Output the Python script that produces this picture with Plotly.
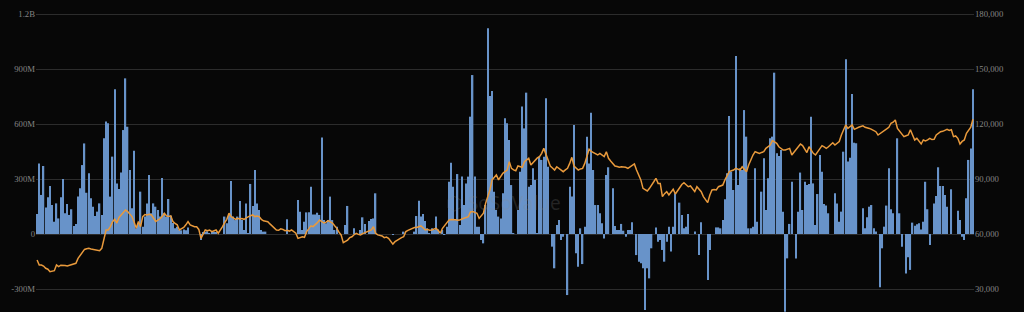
import plotly.graph_objects as go

# Daily net flow (USD millions), one value per trading day
flows_m = [
    109, 385, 213, 371, 145, 200, 262, 158, 67, 167,
    85, 200, 300, 113, 164, 104, 135, 44, 55, 204,
    249, 376, 494, 225, 331, 195, 149, 98, 122, 167,
    104, 522, 613, 604, 204, 422, 789, 276, 245, 335,
    567, 849, 585, 349, 140, 454, 31, 58, 231, 40,
    95, 167, 322, 113, 167, 149, 131, 95, 306, 113,
    95, 191, 100, 60, 31, 40, 25, 20, 25, 20,
    35, 0, 0, 0, 0, 0, -33, 8, 12, 15,
    5, 10, 12, 8, 0, 0, 0, 95, 58, 104,
    289, 95, 76, 95, 180, 76, 22, 167, 4, 273,
    153, 349, 167, 131, 22, 13, 13, 0, 0, 0,
    0, 0, 0, 0, 0, 0, 80, 0, 0, 0,
    0, 185, 122, 22, 67, 118, 118, 258, 107, 107,
    116, 104, 527, 76, 58, 76, 204, 76, 22, 40,
    0, 0, 0, 49, 153, 0, 0, 31, 0, 0,
    22, 91, 55, 0, 71, 82, 85, 222, 0, 0,
    0, 0, 0, 0, 0, -5, 0, 0, 0, 0,
    13, 0, 0, 0, 0, 13, 98, 182, 95, 109,
    71, 31, 4, 31, 22, 95, 25, 0, 22, -5,
    40, 285, 389, 258, 76, 327, 49, 313, 158, 276,
    313, 640, 867, 313, 40, 40, -33, -51, 158, 1122,
    753, 780, 231, 131, 95, 85, 222, 631, 604, 513,
    267, 4, 0, 131, 340, 695, 576, 771, 258, 267,
    358, 295, 4, 422, 404, 422, 740, 367, 0, -69,
    -187, 49, 76, -33, -15, 0, -333, 258, 204, 594,
    -105, -178, 31, -164, 40, 531, 385, 662, 349, 158,
    158, 113, 58, -24, 322, 364, 0, 249, 44, 22,
    22, 55, 18, -15, 22, 22, 64, 0, -115, -151,
    -160, -187, -415, -187, -242, -78, 0, 36, -42, -33,
    -87, -151, -42, 40, -96, 40, 222, 0, 171, 104,
    31, 40, 109, 0, 0, 13, 0, -115, 64, 0,
    0, -251, -87, 0, 0, 36, 36, 31, 76, 189,
    331, 644, 340, 240, 971, 267, 358, 349, 676, 531,
    31, 31, 40, 358, 67, 0, 231, 413, 131, 304,
    522, 531, 880, 440, 425, 458, 122, -424, -133, 55,
    285, 0, -133, 122, 335, 131, 285, 267, 273, 640,
    276, 49, 218, 431, 340, 164, 155, 113, 0, 0,
    222, 167, 67, 122, 449, 953, 395, 416, 764, 498,
    495, 0, 0, 140, 31, 91, 149, 158, 31, 13,
    0, -291, -78, 40, 155, 358, 135, 113, 0, 522,
    113, -69, 0, -215, -127, -196, 62, 45, 53, 58,
    25, 67, 285, 135, -60, 0, 167, 207, 364, 262,
    262, 213, 149, 0, 244, 0, 0, 127, 76, -15,
    -33, 195, 404, 467, 789,
]

# BTC price (thousand USD), one value per trading day
price_k = [
    45.8, 43.1, 43.1, 42.5, 41.3, 40.8, 39.4, 39.6, 40.0, 43.1,
    42.2, 43.0, 43.1, 42.8, 42.5, 42.9, 43.1, 43.6, 44.0, 46.7,
    48.2, 49.5, 51.6, 51.9, 52.2, 51.8, 51.6, 51.2, 51.0, 50.9,
    52.2, 56.7, 62.2, 62.2, 64.0, 66.7, 68.0, 66.0, 69.0, 70.4,
    71.5, 73.1, 72.2, 71.0, 69.5, 66.5, 63.1, 66.8, 64.0, 69.5,
    70.6, 70.4, 70.8, 70.4, 68.5, 66.8, 67.6, 68.3, 69.5, 71.3,
    69.9, 69.5, 69.9, 66.8, 65.8, 65.0, 62.2, 62.8, 63.6, 65.0,
    66.8, 65.0, 64.3, 64.0, 64.0, 62.5, 57.6, 60.0, 62.2, 61.8,
    62.2, 61.3, 61.8, 62.2, 60.4, 62.0, 64.0, 66.2, 68.0, 71.3,
    69.5, 68.8, 68.0, 68.6, 68.2, 68.4, 68.0, 68.8, 69.5, 70.0,
    70.4, 69.5, 69.8, 69.5, 68.0, 67.2, 67.0, 66.7, 65.5, 64.4,
    63.5, 62.2, 62.0, 62.8, 62.5, 61.8, 62.0, 61.6, 62.2, 61.5,
    60.4, 57.6, 57.9, 58.5, 58.2, 61.3, 62.8, 64.4, 64.0, 64.9,
    66.2, 67.6, 66.8, 66.0, 66.5, 67.3, 66.6, 66.0, 64.5, 63.1,
    61.0, 59.5, 55.3, 56.0, 56.7, 58.0, 58.5, 59.6, 60.4, 59.8,
    59.5, 60.2, 60.6, 61.3, 61.8, 62.2, 64.0, 60.4, 59.5, 59.2,
    58.9, 58.0, 58.3, 57.6, 56.0, 54.5, 55.8, 56.7, 57.5, 58.0,
    58.5, 61.3, 62.0, 62.5, 63.1, 63.5, 63.6, 63.9, 64.4, 63.4,
    62.2, 62.6, 62.0, 62.2, 62.8, 63.1, 62.0, 60.4, 63.1, 64.5,
    65.8, 67.6, 67.9, 68.0, 67.8, 67.5, 67.6, 68.2, 68.5, 69.0,
    69.5, 72.0, 72.3, 71.8, 71.3, 68.5, 69.8, 71.3, 76.7, 80.5,
    84.0, 89.5, 90.8, 92.2, 89.5, 91.5, 93.1, 94.0, 94.9, 99.4,
    95.8, 95.0, 94.5, 97.1, 96.8, 96.4, 99.4, 100.2, 101.3, 97.6,
    98.8, 100.4, 101.5, 102.2, 104.0, 106.7, 103.1, 100.0, 97.1, 96.0,
    94.9, 96.7, 95.8, 94.9, 94.0, 95.0, 95.8, 98.5, 101.8, 97.1,
    96.0, 94.9, 95.5, 95.8, 98.5, 102.2, 106.2, 105.0, 104.5, 103.6,
    103.1, 104.0, 103.0, 102.2, 104.9, 101.3, 99.8, 98.5, 97.1, 96.8,
    96.4, 96.7, 96.6, 96.4, 95.8, 96.5, 97.1, 98.2, 94.9, 92.0,
    89.5, 84.9, 84.2, 83.5, 84.9, 86.5, 88.5, 90.4, 87.6, 87.6,
    80.4, 82.0, 83.1, 81.3, 82.8, 84.4, 81.8, 83.5, 85.8, 87.0,
    88.0, 86.8, 85.8, 86.2, 84.5, 83.1, 85.8, 84.4, 83.1, 80.4,
    78.5, 77.1, 81.3, 84.0, 84.2, 84.0, 85.8, 86.2, 86.7, 89.5,
    92.2, 94.0, 94.5, 94.9, 95.8, 95.3, 94.9, 96.7, 95.5, 94.0,
    97.6, 100.5, 103.1, 104.9, 104.5, 104.0, 104.5, 104.9, 106.7, 107.5,
    108.5, 110.9, 110.2, 109.5, 107.6, 106.8, 105.8, 105.8, 106.3, 106.7,
    103.1, 104.5, 105.8, 107.5, 109.1, 108.2, 106.0, 104.4, 107.6, 105.8,
    104.0, 103.1, 105.0, 106.7, 108.2, 107.5, 106.7, 107.6, 108.5, 109.8,
    108.5, 109.5, 110.4, 114.0, 117.0, 119.5, 117.6, 118.5, 119.5, 117.1,
    117.8, 118.2, 118.6, 119.0, 118.2, 118.0, 117.6, 117.1, 116.5, 115.8,
    114.0, 114.8, 115.3, 116.4, 117.3, 118.2, 120.4, 121.0, 122.2, 117.6,
    116.0, 114.9, 113.1, 113.6, 114.0, 116.9, 113.5, 111.3, 112.2, 110.5,
    109.1, 111.3, 110.8, 111.3, 112.2, 111.5, 111.6, 114.0, 115.0, 115.8,
    116.0, 116.4, 117.1, 116.5, 116.9, 113.1, 113.5, 112.2, 109.1, 110.5,
    111.3, 114.9, 116.5, 118.2, 122.6,
]

left_tickvals = [-300e6, 0, 300e6, 600e6, 900e6, 1200e6]
left_ticktext = ["-300M", "0", "300M", "600M", "900M", "1.2B"]
right_tickvals = [30000, 60000, 90000, 120000, 150000, 180000]
right_ticktext = ["30,000", "60,000", "90,000", "120,000", "150,000", "180,000"]

days = list(range(len(flows_m)))
flows = [v * 1e6 for v in flows_m]
price = [v * 1000 for v in price_k]

BAR = "#6893c9"
LINE = "#e99a3c"
BG = "#070707"
GRID = "#2c2c2c"
LABEL = "#858585"

fig = go.Figure()
fig.add_trace(go.Bar(x=days, y=flows, marker=dict(color=BAR, line=dict(width=0)),
                     width=0.64, yaxis="y", showlegend=False))
fig.add_trace(go.Scatter(x=days, y=price, mode="lines", line=dict(color=LINE, width=1.5),
                         yaxis="y2", showlegend=False))

px_left = 300e6 / 55.0
px_right = 30000 / 55.0

fig.update_layout(
    width=1024, height=312,
    margin=dict(l=36, r=50, t=10, b=0),
    paper_bgcolor=BG, plot_bgcolor=BG,
    xaxis=dict(range=[-0.5, len(days) - 0.5], visible=False, fixedrange=True),
    yaxis=dict(range=[-300e6 - 23 * px_left, 1200e6 + 4 * px_left],
               tickvals=left_tickvals, ticktext=left_ticktext,
               showgrid=True, gridcolor=GRID, gridwidth=1, zeroline=False,
               showline=False, ticks="",
               tickfont=dict(family="Liberation Serif", size=8.7, color=LABEL)),
    yaxis2=dict(range=[30000 - 23 * px_right, 180000 + 4 * px_right],
                tickvals=right_tickvals, ticktext=right_ticktext,
                overlaying="y", side="right", showgrid=False, zeroline=False,
                showline=False, ticks="",
                tickfont=dict(family="Liberation Serif", size=8.7, color=LABEL)),
    bargap=0.3,
    annotations=[dict(text="\u2B21 SoSoValue", x=0.498, y=0.36, xref="paper", yref="paper",
                      showarrow=False,
                      font=dict(family="Noto Sans", size=19, color="rgba(140,140,140,0.22)"))],
)

fig.write_html("out.html")
